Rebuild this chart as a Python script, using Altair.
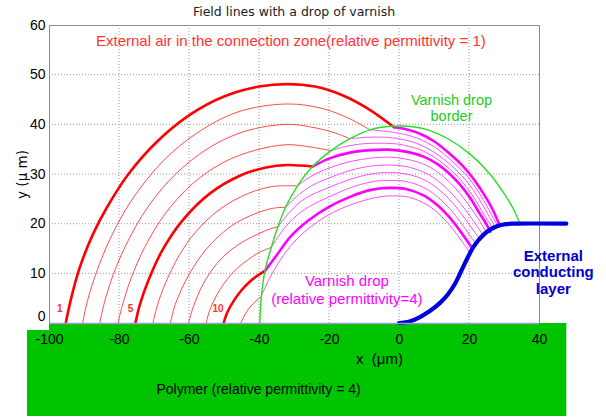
import altair as alt
import pandas as pd

# ---------------- data ----------------
x_ticks = [-100, -80, -60, -40, -20, 0, 20, 40]
y_ticks = [0, 10, 20, 30, 40, 50, 60]
x_grid = [-80, -60, -40, -20, 0, 20]
y_grid = [10, 20, 30, 40, 50]

# red field lines in the air (1 .. 11), thick ones: 1, 5, 10
red_1 = [(-95.2, 0), (-93.8, 4.6), (-91.3, 11.0), (-87.5, 17.8), (-83.5, 23.2), (-77.5, 29.8),
         (-69.6, 36.2), (-59.8, 41.9), (-50, 45.6), (-40, 47.6), (-32, 48.1), (-24, 47.6),
         (-16, 45.8), (-9, 43.2), (-1.4, 39.4)]
red_2 = [(-90.4, 0), (-89, 4.5), (-86.5, 10.1), (-82.5, 17.0), (-76.6, 24.5), (-67.7, 32.4),
         (-57.8, 38.2), (-46, 42.5), (-32, 44.1), (-22, 43.2), (-14, 41.1), (-8.3, 38.9)]
red_3 = [(-85.5, 0), (-84.1, 4.3), (-81.6, 9.8), (-77.6, 16.3), (-71.7, 23.4), (-63.8, 30.0),
         (-54, 35.4), (-44, 38.6), (-32, 40.0), (-24, 39.3), (-18, 38.2), (-14, 37.1)]
red_4 = [(-80.3, 0), (-78.9, 3.9), (-76.6, 8.9), (-72.7, 15.2), (-66.8, 22.0), (-58.9, 28.1),
         (-50, 32.4), (-41, 34.8), (-32, 35.9), (-25, 35.4), (-19.4, 34.7)]
red_5 = [(-75.3, 0), (-74, 3.8), (-71.7, 8.4), (-67.8, 14.4), (-61.9, 20.6), (-54, 26.1),
         (-45, 29.8), (-38, 31.3), (-32, 31.8), (-24.7, 31.5)]
red_6 = [(-70.3, 0), (-69.1, 3.4), (-66.8, 7.9), (-62.9, 13.5), (-58, 18.4), (-51, 23.0),
         (-43, 26.1), (-36, 27.5), (-29, 27.6)]
red_7 = [(-65.3, 0), (-63.9, 3.8), (-59.8, 10.0), (-54.9, 15.0), (-50, 18.4), (-45.7, 20.5),
         (-40, 22.3), (-36, 23.1), (-32.4, 23.3)]
red_8 = [(-60.1, 0), (-58.9, 3.0), (-56, 7.8), (-52, 12.0), (-48, 14.7), (-44, 16.6),
         (-40, 18.0), (-37, 18.9), (-34.6, 19.4)]
red_9 = [(-55.1, 0), (-54, 2.7), (-51, 6.9), (-47, 10.5), (-43, 12.8), (-40, 14.2), (-36.5, 15.2)]
red_10 = [(-50.1, 0), (-49, 2.2), (-47, 4.7), (-45, 6.6), (-42.8, 8.2), (-40.5, 9.5), (-38.3, 10.5)]
red_11 = [(-45.2, 0), (-44.4, 1.2), (-43, 2.8), (-41.5, 4.0), (-39.3, 5.4)]

# magenta field lines inside the varnish drop (continuations of red 1 .. 11)
mag_1 = [(-1.4, 39.4), (2, 39.0), (6, 38.1), (10, 36.6), (14, 34.4), (18, 31.8), (21, 29.3),
         (24, 26.2), (26.5, 23.2), (28.8, 19.6)]
mag_2 = [(-8.3, 38.9), (-4, 38.6), (0, 38.2), (2, 37.9), (6, 37.0), (10, 35.5), (14, 33.3),
         (18, 30.7), (21, 28.2), (24, 24.9), (26.2, 22.1), (28.2, 19.5)]
mag_3 = [(-14, 37.1), (-9, 37.4), (-4, 37.4), (0, 37.1), (2, 36.8), (6, 35.9), (10, 34.4),
         (14, 32.3), (18, 29.6), (21, 27.0), (23.8, 23.9), (25.8, 21.4), (27.6, 19.2)]
mag_4 = [(-19.4, 34.7), (-15, 35.6), (-10, 36.1), (-5, 36.2), (0, 36.0), (2, 35.7), (6, 34.9),
         (10, 33.4), (14, 31.3), (18, 28.5), (20.8, 25.9), (23.5, 22.8), (25.4, 20.6), (26.9, 19.0)]
mag_5 = [(-24.7, 31.5), (-20, 33.1), (-14, 34.3), (-8, 34.8), (-3, 34.9), (2, 34.5), (7, 33.5),
         (11, 32.0), (14.5, 30.0), (17.5, 27.8), (20.5, 25.0), (23, 22.1), (24.8, 20.1), (26.1, 18.4)]
mag_6 = [(-29, 27.6), (-25, 29.6), (-20, 31.2), (-14, 32.5), (-8, 33.2), (-3, 33.4), (2, 33.0),
         (7, 32.0), (11, 30.4), (14.5, 28.3), (17.5, 26.0), (20.2, 23.5), (22.5, 21.1), (25.2, 18.0)]
mag_7 = [(-32.4, 23.3), (-28, 26.2), (-24, 28.0), (-20, 29.2), (-14, 30.7), (-8, 31.6), (-3, 31.8),
         (2, 31.5), (7, 30.4), (11, 28.7), (14.5, 26.5), (17.5, 24.1), (20, 21.8), (22.3, 19.5),
         (24.3, 17.4)]
mag_8 = [(-34.6, 19.4), (-31, 22.5), (-27, 25.0), (-20, 27.3), (-14, 28.9), (-8, 30.0), (-3, 30.3),
         (2, 30.0), (7, 28.9), (11, 27.1), (14.5, 24.8), (17.5, 22.3), (20, 19.9), (21.8, 18.1),
         (23.3, 16.6)]
mag_9 = [(-36.5, 15.2), (-33, 18.9), (-29, 21.8), (-25, 23.7), (-20, 25.4), (-14, 27.2), (-8, 28.4),
         (-3, 28.7), (2, 28.5), (7, 27.3), (11, 25.4), (14.5, 23.0), (17.5, 20.4), (20.2, 17.7),
         (22.2, 15.7)]
mag_10 = [(-38.3, 10.5), (-35, 13.6), (-31, 17.4), (-26, 20.6), (-20, 23.4), (-14, 25.4), (-8, 26.8),
          (-3, 27.2), (2, 27.0), (7, 25.7), (11, 23.7), (14.5, 21.2), (17.5, 18.5), (19.5, 16.5),
          (21, 15.0)]
mag_11 = [(-39.3, 5.4), (-37, 9.0), (-34, 12.6), (-30, 16.3), (-25, 19.5), (-19, 22.2), (-13, 24.0),
          (-7, 25.2), (-2, 25.6), (3, 25.3), (8, 23.8), (12, 21.6), (15.5, 18.8), (18, 16.4),
          (20.2, 14.2)]

# varnish drop border (green) and external conducting layer (blue)
drop_border = [(-39.8, 0), (-39.3, 5.4), (-38.3, 10.5), (-36.5, 15.2), (-34.6, 19.4), (-32.4, 23.3),
               (-29, 27.6), (-24.7, 31.5), (-19.4, 34.7), (-14, 37.1), (-8.3, 38.9), (-2, 39.6),
               (4, 39.5), (9, 38.7), (14, 37.1), (20.3, 34.0), (25.7, 30.2), (30, 26.1),
               (32.5, 23.2), (34.5, 20.1)]
conductor = [(0, 0), (3, 0.3), (6, 1.2), (9, 2.5), (11.8, 4.1), (14, 5.8), (16, 7.9), (18, 10.8),
             (19.5, 13.0), (21, 15.0), (22.5, 16.5), (24.2, 17.8), (26, 18.8), (28, 19.5),
             (30.5, 19.9), (33, 20), (47.8, 20)]

# polymer block (green) below the axis
polymer_x = [-100, 47.8]
polymer_y = [0, -18.7]
polymer_lip_x = [-106.3, -100]
polymer_lip_y = [-1.4, -18.7]

# line numbers
number_text = ["1", "5", "10"]
number_x = [-96.9, -76.7, -51.7]
number_y = [2.8, 2.8, 2.8]

# ---------------- build tables ----------------
rows = []
def add(points, name, group):
    for k, (x, y) in enumerate(points):
        rows.append({"line": name, "group": group, "x": x, "y": y, "i": k})

reds = [red_1, red_2, red_3, red_4, red_5, red_6, red_7, red_8, red_9, red_10, red_11]
mags = [mag_1, mag_2, mag_3, mag_4, mag_5, mag_6, mag_7, mag_8, mag_9, mag_10, mag_11]
thick = {1, 5, 10}
for n, pts in enumerate(reds, start=1):
    add(pts, f"red{n}", "red_thick" if n in thick else "red_thin")
for n, pts in enumerate(mags, start=1):
    add(pts, f"mag{n}", "mag_thick" if n in thick else "mag_thin")
add(drop_border, "border", "border")
add(conductor, "conductor", "conductor")
df = pd.DataFrame(rows)

xs = alt.Scale(domain=[x_ticks[0], x_ticks[-1]], nice=False, zero=False)
ys = alt.Scale(domain=[y_ticks[0], y_ticks[-1]], nice=False, zero=False)

# same axis objects are used in every layer so that the shared axes merge cleanly
xaxis = alt.Axis(values=x_ticks, grid=False, ticks=False, labelFlush=False,
                 labelOverlap=False, labelFont="Liberation Sans", labelFontSize=14,
                 labelColor="black", labelPadding=9, domainColor="#9a9ad4", domainWidth=1.5,
                 labelExpr="'' + datum.value",
                 title="x\u00a0 (μm)", titleFont="Liberation Sans", titleFontSize=15,
                 titleFontWeight="normal", titleColor="black", titleX=330, titleY=35,
                 titleBaseline="middle", titleAlign="center", zindex=1)
yaxis = alt.Axis(values=y_ticks, grid=False, ticks=False, labelFlush=False,
                 labelOverlap=False, labelFont="Liberation Sans", labelFontSize=14,
                 labelColor="black", labelPadding=4, domainColor="#8a8a8a",
                 labelExpr="'' + datum.value",
                 labelOffset={"condition": {"test": "datum.value == 0", "value": -7}, "value": 0},
                 title="y (μ m)", titleFont="DejaVu Sans", titleFontSize=13.5,
                 titleFontWeight="normal", titleColor="black", titleX=-27, titleY=149,
                 titleAngle=270, titleBaseline="middle", titleAlign="center", zindex=1)


def X(field):
    return alt.X(field, scale=xs, axis=xaxis)


def Y(field):
    return alt.Y(field, scale=ys, axis=yaxis)


# grid
vgrid = alt.Chart(pd.DataFrame({"gx": x_grid})).mark_rule(
    color="#9a9a9a", strokeDash=[1, 2], strokeWidth=1).encode(
    x=X("gx:Q"),
    y=alt.Y(datum=y_ticks[0], scale=ys, axis=yaxis),
    y2=alt.Y2(datum=y_ticks[-1]))
hgrid = alt.Chart(pd.DataFrame({"gy": y_grid})).mark_rule(
    color="#9a9a9a", strokeDash=[1, 2], strokeWidth=1).encode(
    y=Y("gy:Q"),
    x=alt.X(datum=x_ticks[0], scale=xs, axis=xaxis),
    x2=alt.X2(datum=x_ticks[-1]))

# polymer block
poly_df = pd.DataFrame({"x": [polymer_x[0], polymer_lip_x[0]], "x2": [polymer_x[1], polymer_lip_x[1]],
                        "y": [polymer_y[0], polymer_lip_y[0]], "y2": [polymer_y[1], polymer_lip_y[1]]})
polymer = alt.Chart(poly_df).mark_rect(color="#00c400", clip=False).encode(
    x=X("x:Q"), x2="x2:Q", y=Y("y:Q"), y2="y2:Q")


def lines(group, color, width, opacity=1.0):
    return alt.Chart(df[df.group == group]).mark_line(
        color=color, strokeWidth=width, opacity=opacity, interpolate="catmull-rom",
        clip=False, strokeCap="round").encode(
        x=X("x:Q"), y=Y("y:Q"), detail="line:N", order="i:Q")

red_thin = lines("red_thin", "#ff2020", 1.0, 0.8)
red_thick = lines("red_thick", "#ff0000", 2.6)
mag_thin = lines("mag_thin", "#ff30ff", 1.0, 0.85)
mag_thick = lines("mag_thick", "#ff00ff", 2.6)
border = lines("border", "#22e022", 1.4)
cond = lines("conductor", "#0000dd", 4.2)


def text_layer(data, color, size, weight="normal", align="center", baseline="middle",
               font="Liberation Sans", line_height=None):
    kw = dict(color=color, fontSize=size, fontWeight=weight, align=align, baseline=baseline,
              font=font, lineBreak="\n")
    if line_height is not None:
        kw["lineHeight"] = line_height
    return alt.Chart(pd.DataFrame(data)).mark_text(**kw).encode(
        x=X("x:Q"), y=Y("y:Q"), text="t:N")

air_note = text_layer({"t": ["External air in the connection zone(relative permittivity = 1)"],
                       "x": [-30.9], "y": [56.7]}, "#ff3333", 15)
border_note = text_layer({"t": ["Varnish drop\nborder"], "x": [15.0], "y": [46.2]},
                         "#22cc22", 14.5, baseline="top", line_height=16)
drop_note = text_layer({"t": ["Varnish drop\n(relative permittivity=4)"], "x": [-14.9], "y": [9.8]},
                       "#ff00ff", 15, baseline="top", line_height=17.3)
layer_note = text_layer({"t": ["External\nconducting\nlayer"], "x": [44.1], "y": [15.0]},
                        "#0000cc", 15, weight="bold", baseline="top", line_height=16.8)
polymer_note = text_layer({"t": ["Polymer (relative permittivity = 4)"], "x": [-69.3], "y": [-13.5]},
                          "black", 14, align="left")
numbers = text_layer({"t": number_text, "x": number_x, "y": number_y}, "#ff3333", 10, weight="bold")

chart = alt.layer(
    vgrid, hgrid, polymer, red_thin, red_thick, mag_thin, mag_thick, border, cond,
    air_note, border_note, drop_note, layer_note, polymer_note, numbers
).properties(
    width=490, height=298,
    title=alt.TitleParams(text="Field lines with a drop of varnish", font="DejaVu Sans",
                          fontSize=12.5, fontWeight="normal", color="#222222",
                          anchor="middle", offset=0),
    autosize=alt.AutoSizeParams(type="none"),
    padding={"left": 49, "top": 25, "right": 67, "bottom": 96},
).configure_view(stroke="#8a8a8a", strokeWidth=1)

chart.save("out.html", embed_options={"renderer": "svg", "actions": False})
